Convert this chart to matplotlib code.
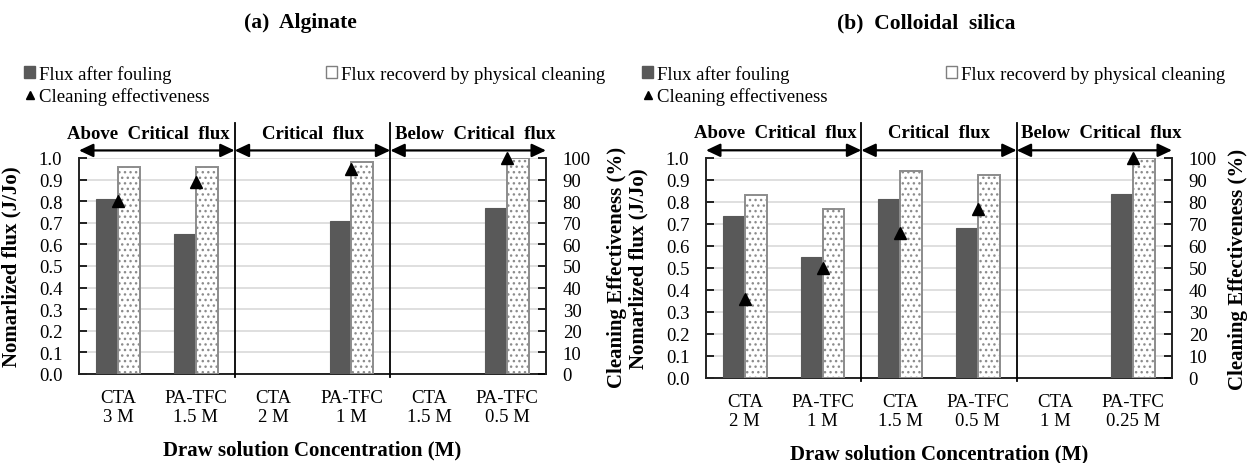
import numpy as np
import matplotlib
matplotlib.use("Agg")
import matplotlib.pyplot as plt
from matplotlib.lines import Line2D
from matplotlib.patches import Patch

plt.rcParams["font.family"] = ["Liberation Serif", "DejaVu Serif"]
plt.rcParams["hatch.linewidth"] = 1.0
plt.rcParams["hatch.color"] = "#666666"

nan = np.nan

# ---- data -------------------------------------------------------------
labels_a = ["CTA\n3 M", "PA-TFC\n1.5 M", "CTA\n2 M", "PA-TFC\n1 M", "CTA\n1.5 M", "PA-TFC\n0.5 M"]
fouled_a = [0.81, 0.65, nan, 0.71, nan, 0.77]
recovered_a = [0.96, 0.96, nan, 0.98, nan, 1.00]
effect_a = [80, 89, nan, 95, nan, 100]

labels_b = ["CTA\n2 M", "PA-TFC\n1 M", "CTA\n1.5 M", "PA-TFC\n0.5 M", "CTA\n1 M", "PA-TFC\n0.25 M"]
fouled_b = [0.735, 0.55, 0.815, 0.68, nan, 0.835]
recovered_b = [0.83, 0.77, 0.94, 0.925, nan, 1.00]
effect_b = [36, 50, 66, 77, nan, 100]

regions = ["Above  Critical  flux", "Critical  flux", "Below  Critical  flux"]
titles = ["(a)  Alginate", "(b)  Colloidal  silica"]
legend_labels = ["Flux after fouling", "Flux recoverd by physical cleaning", "Cleaning effectiveness"]

DARK = "#595959"
GRID = "#d9d9d9"
W, H = 1250, 464
FS = 13.5      # tick / legend text
FS_LAB = 15    # axis titles
FS_REG = 13.5  # regime labels

fig = plt.figure(figsize=(W / 100, H / 100), dpi=100)


def px_axes(x0, y0, x1, y1):
    return fig.add_axes([x0 / W, 1 - y1 / H, (x1 - x0) / W, (y1 - y0) / H])


def draw_panel(rect, labels, fouled, recovered, effect, title, title_x, legend_x, ylab2_x):
    ax = px_axes(*rect)
    n = len(labels)
    x = np.arange(n)
    bw = 0.28
    f = np.array(fouled, dtype=float)
    r = np.array(recovered, dtype=float)
    e = np.array(effect, dtype=float)
    okf = np.isfinite(f)
    okr = np.isfinite(r)
    ax.bar(x[okf] - bw / 2, f[okf], bw, color=DARK, edgecolor=DARK, linewidth=0.8, zorder=3)
    ax.bar(x[okr] + bw / 2, r[okr], bw, facecolor="white", edgecolor="#8c8c8c",
           hatch="...", linewidth=1.4, zorder=3)

    ax.set_xlim(-0.5, n - 0.5)
    ax.set_ylim(0, 1.0)
    ticks = np.arange(0, 1.01, 0.1)
    ax.set_yticks(ticks)
    ax.set_yticklabels([f"{v:.1f}" for v in ticks], fontsize=FS)
    ax.yaxis.grid(True, color=GRID, linewidth=1.2, zorder=0)
    ax.set_axisbelow(True)
    ax.set_xticks(x)
    ax.set_xticklabels(labels, fontsize=FS, linespacing=1.1)
    ax.tick_params(axis="x", length=0, pad=11)
    ax.tick_params(axis="y", direction="in", length=6, width=1.2, pad=12)
    for s in ("left", "bottom"):
        ax.spines[s].set_linewidth(1.4)
        ax.spines[s].set_color("#222222")
    ax.spines["top"].set_visible(False)
    ax.spines["right"].set_visible(False)
    ax.set_ylabel("Nomarlized flux (J/Jo)", fontsize=FS_LAB, fontweight="bold")
    ax.yaxis.set_label_coords(-0.123, 0.5)
    ax.set_xlabel("Draw solution Concentration (M)", fontsize=FS_LAB, fontweight="bold",
                  labelpad=11)

    ax2 = ax.twinx()
    ax2.set_ylim(0, 100)
    ax2.set_yticks(np.arange(0, 101, 10))
    ax2.tick_params(axis="y", direction="in", length=6, width=1.2, labelsize=FS, pad=12)
    for s in ("left", "top", "bottom"):
        ax2.spines[s].set_visible(False)
    ax2.spines["right"].set_linewidth(1.4)
    ax2.spines["right"].set_color("#222222")
    oke = np.isfinite(e)
    ax2.plot(x[oke], e[oke], linestyle="none", marker="^", markersize=9,
             color="black", zorder=5, clip_on=False)
    ax2.set_ylabel("Cleaning Effectiveness (%)", fontsize=FS_LAB, fontweight="bold")
    ax2.yaxis.set_label_coords(ylab2_x, 0.5)

    # flux regimes: separators, arrows and labels
    trans = ax.get_xaxis_transform()
    seps = (1.5, 3.5)
    for sx in seps:
        ax.add_line(Line2D([sx, sx], [-0.012, 1.16], transform=trans, color="black",
                           linewidth=1.3, clip_on=False, zorder=6))
    bounds = [(-0.5, 1.5), (1.5, 3.5), (3.5, 5.5)]
    for (a, b) in bounds:
        ax.annotate("", xy=(b, 1.035), xytext=(a, 1.035), xycoords=trans, textcoords=trans,
                    arrowprops=dict(arrowstyle="<|-|>,head_length=0.85,head_width=0.4",
                                    color="black", linewidth=1.6, shrinkA=0, shrinkB=0),
                    annotation_clip=False)
    ax.text(seps[0] - 0.06, 1.115, regions[0], transform=trans, ha="right", va="center",
            fontsize=FS_REG, fontweight="bold")
    ax.text(2.5, 1.115, regions[1], transform=trans, ha="center", va="center",
            fontsize=FS_REG, fontweight="bold")
    ax.text(seps[1] + 0.06, 1.115, regions[2], transform=trans, ha="left", va="center",
            fontsize=FS_REG, fontweight="bold")

    fig.text(title_x / W, 1 - 23 / H, title, ha="center", va="center",
             fontsize=FS_LAB + 0.5, fontweight="bold")

    # legend entries
    h_fouled = Patch(facecolor=DARK, edgecolor=DARK)
    h_recov = Patch(facecolor="white", edgecolor="#7f7f7f", linewidth=1.0)
    h_eff = Line2D([], [], linestyle="none", marker="^", markersize=6, color="black")
    entries = [(h_fouled, legend_labels[0], legend_x[0], 75),
               (h_recov, legend_labels[1], legend_x[1], 75),
               (h_eff, legend_labels[2], legend_x[0], 97)]
    for h, txt, lx, ly in entries:
        fig.legend([h], [txt], loc="center left", bbox_to_anchor=(lx / W, 1 - ly / H),
                   frameon=False, fontsize=FS, handlelength=0.6, handleheight=0.6,
                   handletextpad=0.2, borderpad=0, borderaxespad=0)
    return ax


draw_panel((79, 159, 546, 375), labels_a, fouled_a, recovered_a, effect_a,
           titles[0], 300, (24, 326), 1.13)
draw_panel((706, 159, 1172, 379), labels_b, fouled_b, recovered_b, effect_b,
           titles[1], 926, (642, 946), 1.12)

fig.savefig("out.png", dpi=100)
